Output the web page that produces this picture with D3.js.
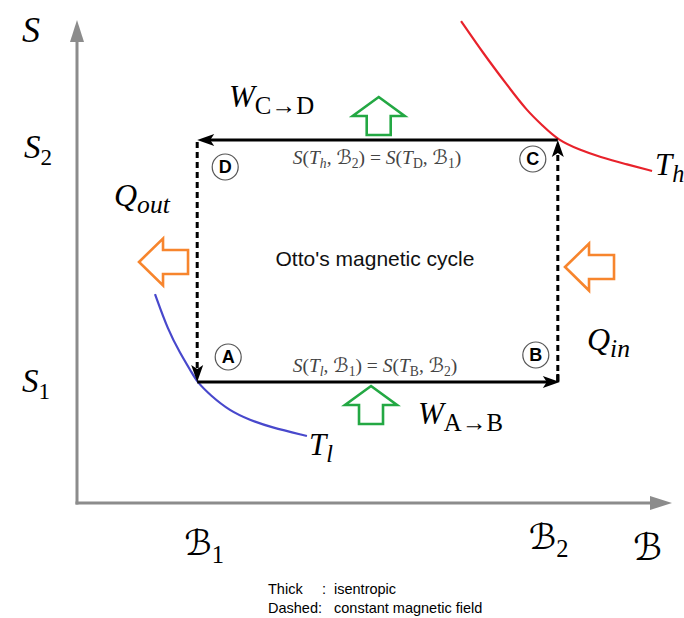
<!DOCTYPE html>
<html>
<head>
<meta charset="utf-8">
<script src="https://cdn.jsdelivr.net/npm/d3@7"></script>
<style>
  body { margin: 0; background: #fff; }
  .math { font-family: "Liberation Serif", "DejaVu Serif", serif; }
  .sans { font-family: "Liberation Sans", "Open Sans", sans-serif; }
  .cal { font-family: "DejaVu Sans", sans-serif; }
</style>
</head>
<body>
<svg id="chart"></svg>
<script>
// Otto magnetic cycle in the (B, S) plane
const width = 684, height = 618;

// field values (x) and entropy values (y), in arbitrary units
const fieldTicks = [1, 4];            // B1, B2
const entropyTicks = [1, 3];          // S1, S2
const cyclePoints = [                  // A, B, C, D
  {name: "A", b: 1, s: 1},
  {name: "B", b: 4, s: 1},
  {name: "C", b: 4, s: 3},
  {name: "D", b: 1, s: 3}
];
// isotherms
const hotB = [3.195, 3.378, 3.577, 3.744, 3.877, 4.0, 4.185, 4.351, 4.559, 4.784];
const hotS = [3.983, 3.719, 3.455, 3.240, 3.116, 3.0, 2.917, 2.860, 2.802, 2.744];
const coldB = [0.649, 0.757, 0.857, 0.957, 1.0, 1.106, 1.273, 1.439, 1.606, 1.913];
const coldS = [1.727, 1.430, 1.240, 1.074, 1.0, 0.893, 0.760, 0.686, 0.628, 0.554];
// block arrows: tip position, direction
const workArrows = [{b: 2.51, s: 3.355, dir: "up"}, {b: 2.446, s: 0.967, dir: "up"}];
const heatArrows = [{b: 0.516, s: 1.992, dir: "left"}, {b: 4.06, s: 1.95, dir: "left"}];

const x = d3.scaleLinear().domain([0, 4.95]).range([77, 672]);
const y = d3.scaleLinear().domain([0, 4]).range([503, 19]);

const svg = d3.select("#chart").attr("width", width).attr("height", height);

// axes
const axisColor = "#8c8c8c";
svg.append("line").attr("x1", x(0)).attr("y1", y(0) + 1.5).attr("x2", x(0)).attr("y2", y(3.86))
  .attr("stroke", axisColor).attr("stroke-width", 3);
svg.append("line").attr("x1", x(0) - 1.5).attr("y1", y(0)).attr("x2", x(4.8)).attr("y2", y(0))
  .attr("stroke", axisColor).attr("stroke-width", 3);
svg.append("path").attr("fill", axisColor)
  .attr("d", `M${x(0)},${y(4) + 1} l-7,22 l14,0 Z`);
svg.append("path").attr("fill", axisColor)
  .attr("d", `M${x(4.95)},${y(0)} l-22,-7 l0,14 Z`);

// isotherms
const line = d3.line().x(d => x(d[0])).y(d => y(d[1])).curve(d3.curveBasis);
svg.append("path").datum(d3.zip(hotB, hotS)).attr("d", line)
  .attr("fill", "none").attr("stroke", "#e8222b").attr("stroke-width", 2.2);
svg.append("path").datum(d3.zip(coldB, coldS)).attr("d", line)
  .attr("fill", "none").attr("stroke", "#4848cc").attr("stroke-width", 2.2);

// cycle
const P = {};
cyclePoints.forEach(p => P[p.name] = [x(p.b), y(p.s)]);
const seg = (a, b, dashed) => svg.append("line")
  .attr("x1", a[0]).attr("y1", a[1]).attr("x2", b[0]).attr("y2", b[1])
  .attr("stroke", "#000").attr("stroke-width", 3)
  .attr("stroke-dasharray", dashed ? "6,4" : null);
const head = (tip, dir) => {
  const L = 17, w = 6;
  let d;
  if (dir === "left") d = `M${tip[0]},${tip[1]} l${L},${-w} l-4,${w} l4,${w} Z`;
  if (dir === "right") d = `M${tip[0]},${tip[1]} l${-L},${-w} l4,${w} l-4,${w} Z`;
  if (dir === "down") d = `M${tip[0]},${tip[1]} l${-w},${-L} l${w},4 l${w},-4 Z`;
  if (dir === "up") d = `M${tip[0]},${tip[1]} l${-w},${L} l${w},-4 l${w},4 Z`;
  svg.append("path").attr("d", d).attr("fill", "#000");
};
seg(P.A, [P.B[0] - 10, P.B[1]], false); head([P.B[0] + 2, P.B[1]], "right");
seg(P.C, [P.D[0] + 10, P.D[1]], false); head([P.D[0], P.D[1]], "left");
seg([P.D[0], P.D[1] + 2], [P.A[0], P.A[1] - 12], true); head([P.A[0], P.A[1]], "down");
seg([P.B[0], P.B[1] - 1], [P.C[0], P.C[1] + 12], true); head([P.C[0], P.C[1]], "up");
svg.append("line").attr("x1", P.B[0]).attr("y1", P.B[1]).attr("x2", P.B[0]).attr("y2", P.B[1] - 8)
  .attr("stroke", "#000").attr("stroke-width", 3);

// block arrows
const block = (a, color, hl, hw, sw, len) => {
  const [tx, ty] = [x(a.b), y(a.s)];
  const pts = a.dir === "up"
    ? [[0, 0], [hw, hl], [sw, hl], [sw, len], [-sw, len], [-sw, hl], [-hw, hl]]
    : [[0, 0], [hl, -hw], [hl, -sw], [len, -sw], [len, sw], [hl, sw], [hl, hw]];
  svg.append("path")
    .attr("d", "M" + pts.map(p => [tx + p[0], ty + p[1]].join(",")).join("L") + "Z")
    .attr("fill", "none").attr("stroke", color).attr("stroke-width", 2.6)
    .attr("stroke-linejoin", "miter");
};
workArrows.forEach(a => block(a, "#23a843", 19, 26, 12, 38));
heatArrows.forEach(a => block(a, "#f7852d", 24, 23.5, 12, 49));

// math text helper: parts = [[text, style]], style i / r / si / sr / c (calligraphic)
const mtext = (px, py, size, parts, color = "#000", anchor = "start", subRatio = 0.7) => {
  const t = svg.append("text").attr("class", "math").attr("x", px).attr("y", py)
    .attr("font-size", size).attr("fill", color).attr("text-anchor", anchor);
  let down = false;
  parts.forEach(([s, st]) => {
    const sub = st[0] === "s";
    const ts = t.append("tspan").text(s)
      .attr("font-style", st.endsWith("i") ? "italic" : "normal");
    if (st === "c") ts.attr("class", "cal").attr("font-style", "italic").attr("font-size", size);
    if (sub) ts.attr("font-size", size * subRatio);
    if (sub && !down) { ts.attr("dy", size * 0.22); down = true; }
    if (!sub && down) { ts.attr("dy", -size * 0.22); down = false; }
  });
  return t;
};
const scriptB = "\u212C";

// axis labels
mtext(22, 42, 36, [["S", "i"]]);
mtext(24, y(entropyTicks[1]) + 18, 33, [["S", "i"], ["2", "sr"]]);
mtext(22, y(entropyTicks[0]) + 10, 33, [["S", "i"], ["1", "sr"]]);
mtext(x(fieldTicks[0]) - 13, 555, 35, [[scriptB, "c"], ["1", "sr"]]);
mtext(x(fieldTicks[1]) - 29, 549, 35, [[scriptB, "c"], ["2", "sr"]]);
mtext(633, 560, 37, [[scriptB, "c"]]);

// work / heat labels
mtext(229, 107, 31, [["W", "i"], ["C\u2192D", "sr"]], "#000", "start", 0.8);
mtext(418, 424, 31, [["W", "i"], ["A\u2192B", "sr"]], "#000", "start", 0.8);
mtext(114, 206, 32, [["Q", "i"], ["out", "si"]], "#000", "start", 0.8);
mtext(587, 350, 32, [["Q", "i"], ["in", "si"]], "#000", "start", 0.8);
mtext(655, 175, 31, [["T", "i"], ["h", "si"]], "#000", "start", 0.78);
mtext(309, 455, 31, [["T", "i"], ["l", "si"]], "#000", "start", 0.78);

// equal-entropy formulas
mtext(377, 164, 19.5, [["S", "i"], ["(", "r"], ["T", "i"], ["h", "si"], [", ", "r"], [scriptB, "c"], ["2", "sr"],
  [") = ", "r"], ["S", "i"], ["(", "r"], ["T", "i"], ["D", "sr"], [", ", "r"], [scriptB, "c"], ["1", "sr"], [")", "r"]],
  "#444", "middle");
mtext(375, 372, 19.5, [["S", "i"], ["(", "r"], ["T", "i"], ["l", "si"], [", ", "r"], [scriptB, "c"], ["1", "sr"],
  [") = ", "r"], ["S", "i"], ["(", "r"], ["T", "i"], ["B", "sr"], [", ", "r"], [scriptB, "c"], ["2", "sr"], [")", "r"]],
  "#444", "middle");

// circled corner letters
const circles = [
  {name: "D", dx: 28, dy: 27}, {name: "C", dx: -25, dy: 19},
  {name: "A", dx: 31, dy: -25}, {name: "B", dx: -22, dy: -27}
];
circles.forEach(c => {
  const g = svg.append("g").attr("transform", `translate(${P[c.name][0] + c.dx},${P[c.name][1] + c.dy})`);
  g.append("circle").attr("r", 13).attr("fill", "#fff").attr("stroke", "#555").attr("stroke-width", 1.2);
  g.append("text").attr("class", "sans").attr("text-anchor", "middle").attr("dy", "0.36em")
    .attr("font-size", 18).attr("font-weight", "bold").text(c.name);
});

// title inside the cycle
svg.append("text").attr("class", "sans").attr("x", 375).attr("y", 266)
  .attr("text-anchor", "middle").attr("font-size", 21).attr("fill", "#111")
  .text("Otto's magnetic cycle");

// legend
const legend = [["Thick", ":", "isentropic"], ["Dashed:", "", "constant magnetic field"]];
legend.forEach((r, i) => {
  const ly = 594 + i * 19;
  svg.append("text").attr("class", "sans").attr("x", 268).attr("y", ly).attr("font-size", 14.5).text(r[0]);
  if (r[1]) svg.append("text").attr("class", "sans").attr("x", 322).attr("y", ly).attr("font-size", 14.5).text(r[1]);
  svg.append("text").attr("class", "sans").attr("x", 334).attr("y", ly).attr("font-size", 14.5).text(r[2]);
});
</script>
</body>
</html>
